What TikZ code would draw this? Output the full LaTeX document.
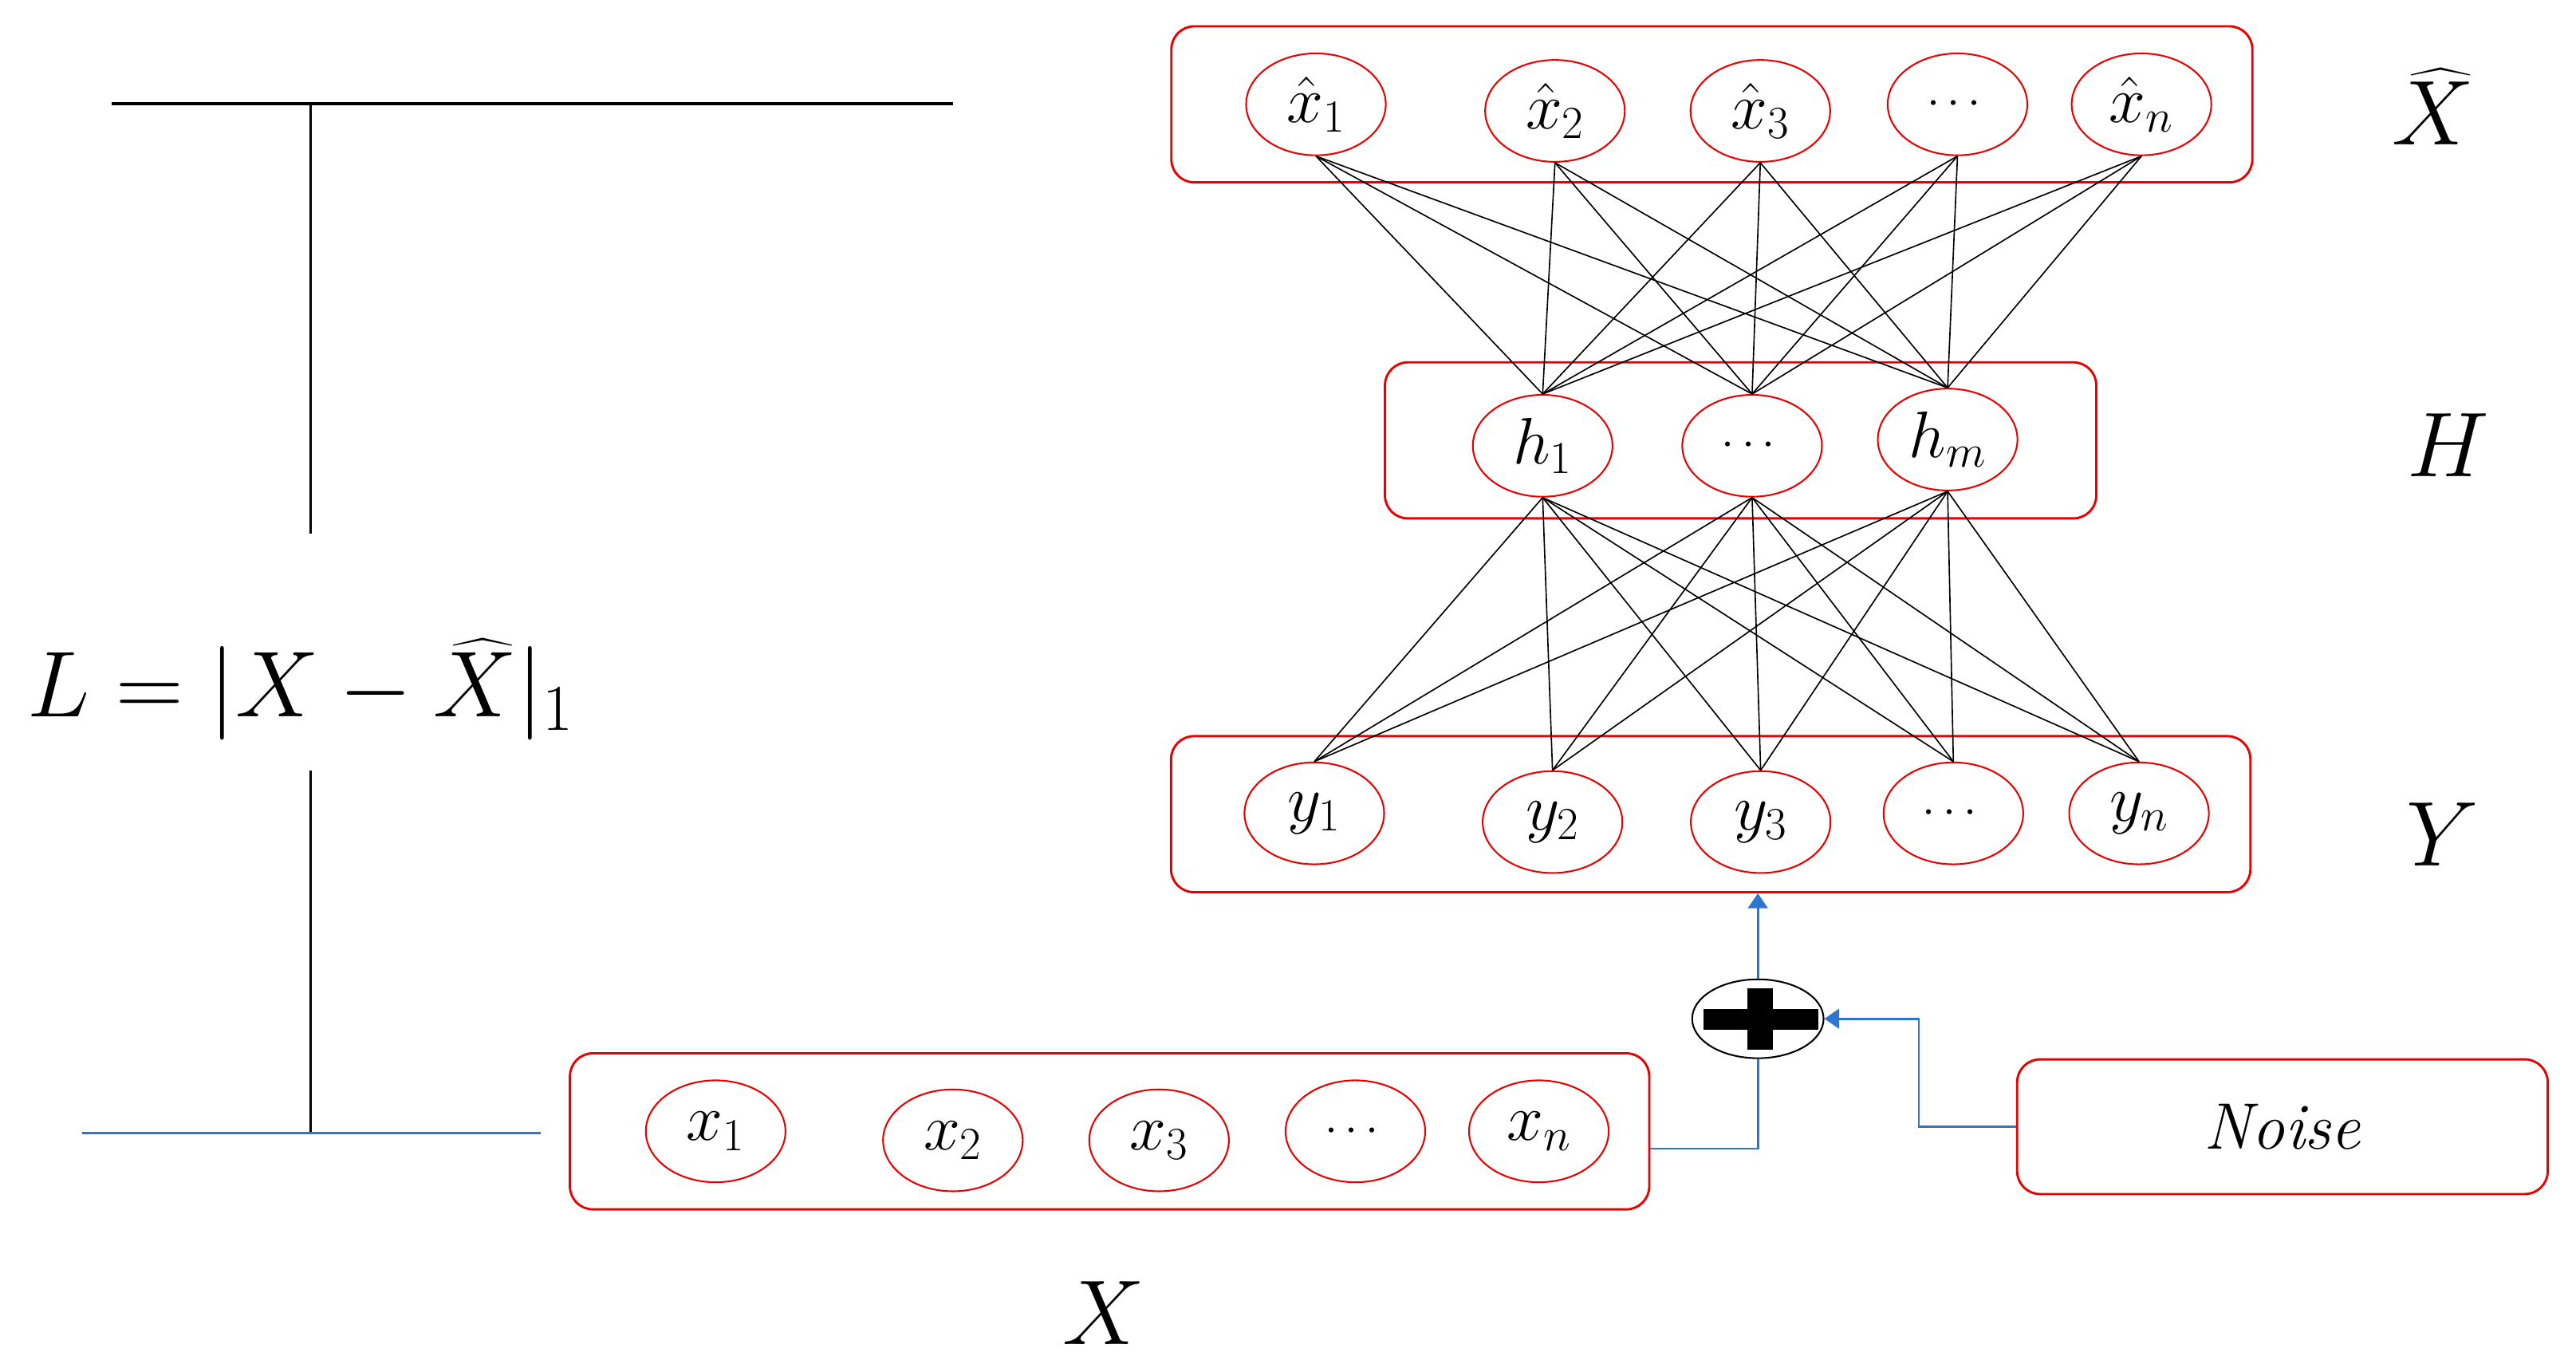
\RequirePackage{fix-cm}
\documentclass[tikz,border=0pt]{standalone}
\usepackage{amsmath}
\usetikzlibrary{shapes.geometric,arrows.meta}
\definecolor{mred}{RGB}{235,0,0}
\definecolor{mblue}{RGB}{46,117,208}
\newcommand{\mydots}{{\fontsize{28}{30}\selectfont$\cdots$}}
\begin{document}
\begin{tikzpicture}[x=1pt,y=-1pt,
  layer/.style={draw=mred,line width=1.4pt,rounded corners=14pt,minimum width=#1,minimum height=95pt,inner sep=0pt},
  neuron/.style={ellipse,draw=mred,line width=1pt,minimum width=85pt,minimum height=62pt,inner sep=0pt,font=\fontsize{40}{44}\selectfont},
  conn/.style={black,line width=0.8pt},
  flow/.style={mblue,line width=1.3pt},
  flowarrow/.style={flow,-{Triangle[width=12pt,length=9pt]}},
  biglabel/.style={font=\fontsize{56}{60}\selectfont,anchor=base,inner sep=0pt}
]
\useasboundingbox[fill=white] (0,0) rectangle (1568,830);

% layer boxes
\node[layer=658pt] (Xhbox) at (1042,63.5) {};
\node[layer=433pt] (Hbox) at (1059.5,268) {};
\node[layer=657pt] (Ybox) at (1041.3,495.5) {};
\node[layer=657pt] (Xbox) at (675.4,688.5) {};
\node[layer=323pt,minimum height=82pt,font=\itshape\fontsize{40}{44}\selectfont] (noise) at (1389.3,685.7) {Noise};

% output layer
\node[neuron] (xh1) at (801,63.5) {$\hat{x}_1$};
\node[neuron] (xh2) at (946.5,67.5) {$\hat{x}_2$};
\node[neuron] (xh3) at (1071.5,67.5) {$\hat{x}_3$};
\node[neuron] (xhd) at (1191.5,63.5) {\mydots};
\node[neuron] (xhn) at (1303.5,63.5) {$\hat{x}_n$};

% hidden layer
\node[neuron] (h1) at (939,271.3) {$h_1$};
\node[neuron] (hd) at (1066.5,271.3) {\mydots};
\node[neuron] (hm) at (1185.5,267.5) {$h_m$};

% corrupted input layer
\node[neuron] (y1) at (800,495) {$y_1$};
\node[neuron] (y2) at (945,500.3) {$y_2$};
\node[neuron] (y3) at (1071.7,500.3) {$y_3$};
\node[neuron] (yd) at (1189,495) {\mydots};
\node[neuron] (yn) at (1302,495) {$y_n$};

% input layer
\node[neuron] (x1) at (435.6,688.5) {$x_1$};
\node[neuron] (x2) at (580,694) {$x_2$};
\node[neuron] (x3) at (705.5,694) {$x_3$};
\node[neuron] (xd) at (825,688.5) {\mydots};
\node[neuron] (xn) at (936.7,688.5) {$x_n$};

% full connections
\foreach \a in {y1,y2,y3,yd,yn}
  \foreach \b in {h1,hd,hm}
    \draw[conn] (\a.north) -- (\b.south);
\foreach \a in {h1,hd,hm}
  \foreach \b in {xh1,xh2,xh3,xhd,xhn}
    \draw[conn] (\a.north) -- (\b.south);

% adder
\node[ellipse,draw=black,line width=1pt,fill=white,minimum width=80pt,minimum height=48pt,inner sep=0pt] (plus) at (1070,620) {};
\fill[black] (1037,614) rectangle (1107,626.5);
\fill[black] (1063.5,601.5) rectangle (1079,639);

% blue flow
\draw[flow] ([yshift=-10.5pt]Xbox.east) -| (plus.south);
\draw[flowarrow] (plus.north) -- (plus.north |- Ybox.south);
\coordinate (nb) at (1168,620);
\draw[flowarrow] (noise.west) -| (nb) -- (plus.east);

% loss bracket
\draw[black,line width=2pt] (68,63) -- (580,63);
\draw[black,line width=1.2pt] (189,63) -- (189,325);
\node[font=\fontsize{57}{60}\selectfont,anchor=base,inner sep=0pt] (loss) at (183,436) {$L = |X - \widehat{X}|_1$};
\draw[black,line width=1.4pt] (189,469) -- (189,689.5);
\draw[flow] (50,689.5) -- (329,689.5);

% layer labels
\node[biglabel] (lXh) at (1481,88) {$\widehat{X}$};
\node[biglabel] (lH) at (1490,290) {$H$};
\node[biglabel] (lY) at (1487,527) {$Y$};
\node[biglabel] (lX) at (672,818) {$X$};
\end{tikzpicture}
\end{document}
